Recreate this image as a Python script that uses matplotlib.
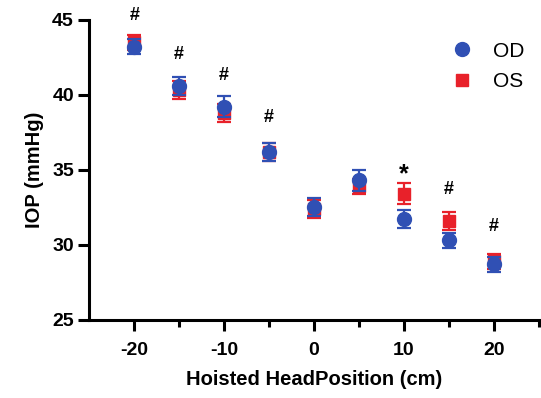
import numpy as np
import matplotlib.pyplot as plt

plt.rcParams['font.family'] = ['Liberation Sans', 'DejaVu Sans']
plt.rcParams['axes.unicode_minus'] = False

# data
position = [-20, -15, -10, -5, 0, 5, 10, 15, 20]
od_mean = [43.2, 40.6, 39.2, 36.2, 32.5, 34.3, 31.7, 30.3, 28.7]
od_sem = [0.5, 0.6, 0.7, 0.6, 0.6, 0.7, 0.6, 0.5, 0.5]
os_mean = [43.5, 40.3, 38.8, 36.2, 32.4, 33.9, 33.4, 31.6, 28.9]
os_sem = [0.5, 0.6, 0.6, 0.6, 0.6, 0.5, 0.7, 0.6, 0.5]
sig_x = [-20, -15, -10, -5, 10, 15, 20]
sig_y = [45.3, 42.7, 41.3, 38.5, 35.2, 33.7, 31.2]
sig_mark = ['#', '#', '#', '#', '*', '#', '#']

blue = '#3050b4'
red = '#e8212a'

fig = plt.figure(figsize=(5.41, 3.98), dpi=100)
ax = fig.add_axes([0.165, 0.196, 0.831, 0.754])

ax.errorbar(position, os_mean, yerr=os_sem, fmt='s', color=red, ms=9,
            elinewidth=1.6, capsize=5, capthick=1.6, label='OS', zorder=3)
ax.errorbar(position, od_mean, yerr=od_sem, fmt='o', color=blue, ms=10,
            elinewidth=1.6, capsize=5, capthick=1.6, label='OD', zorder=4)

for x, y, m in zip(sig_x, sig_y, sig_mark):
    fs = 18 if m == '*' else 13
    yy = y - 0.5 if m == '*' else y
    ax.text(x, yy, m, ha='center', va='center', fontsize=fs, fontweight='bold')

ax.set_xlim(-25, 25)
ax.set_ylim(25, 45)
ax.set_xticks([-20, -10, 0, 10, 20])
ax.set_xticks([-15, -5, 5, 15, 25], minor=True)
ax.set_yticks([25, 30, 35, 40, 45])
ax.spines['top'].set_visible(False)
ax.spines['right'].set_visible(False)
for s in ['left', 'bottom']:
    ax.spines[s].set_linewidth(2.2)
ax.tick_params(which='major', width=2.2, length=8, labelsize=14)
ax.tick_params(axis='x', which='major', pad=8)
ax.tick_params(axis='y', which='major', pad=3)
ax.tick_params(which='minor', width=2.2, length=5)
for lbl in ax.get_xticklabels() + ax.get_yticklabels():
    lbl.set_fontweight('bold')

ax.set_xlabel('Hoisted HeadPosition (cm)', fontsize=14.5, fontweight='bold',
              labelpad=8)
ax.set_ylabel('IOP (mmHg)', fontsize=14.5, fontweight='bold', labelpad=6)

h, l = ax.get_legend_handles_labels()
leg = ax.legend([h[1][0], h[0][0]], ['OD', 'OS'], loc='upper right',
                bbox_to_anchor=(1.01, 0.99), frameon=False, fontsize=15,
                handletextpad=0.5, labelspacing=0.55)

fig.savefig('out.png', dpi=100)
